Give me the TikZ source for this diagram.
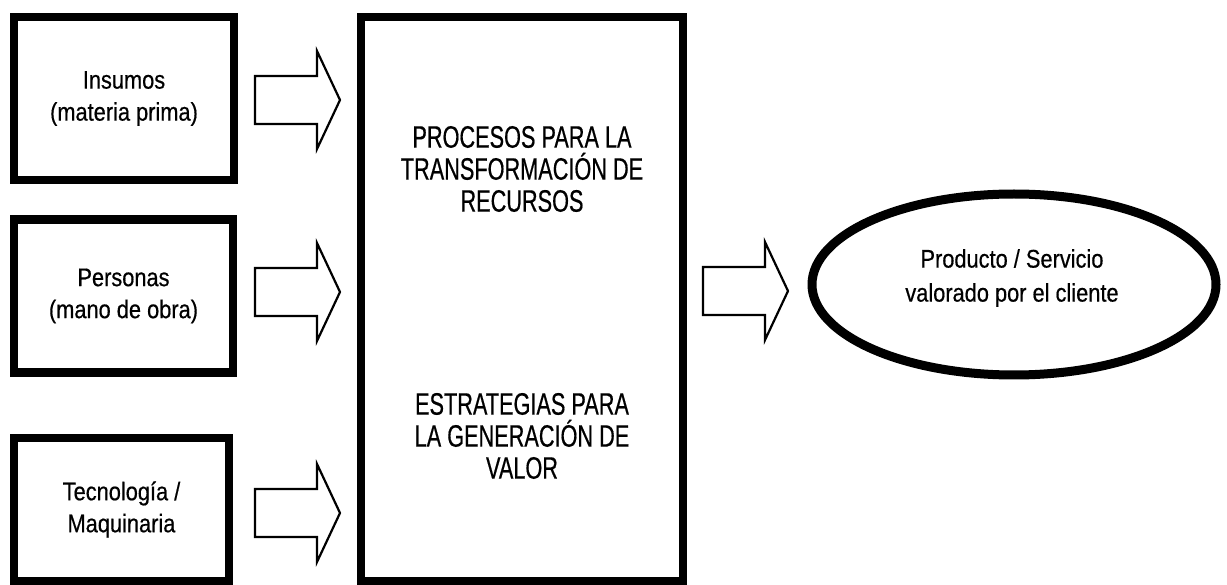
\documentclass[tikz,border=0pt]{standalone}
\usepackage{fontspec}
\setmainfont{Liberation Sans}
\newfontfamily\lowfont{Liberation Sans}[FakeStretch=0.855,FakeBold=0.5]
\newfontfamily\capfont{Liberation Sans}[FakeStretch=0.70,FakeBold=0.5]
\usetikzlibrary{shapes.geometric}
\tikzset{
  inbox/.style={draw, rectangle, line width=8.5pt, inner sep=0pt, align=center,
    font=\lowfont\fontsize{25.5}{32}\selectfont},
  bigbox/.style={draw, rectangle, line width=8pt, inner sep=0pt},
  captext/.style={align=center, inner sep=0pt, font=\capfont\fontsize{31}{32}\selectfont},
  lowtext/.style={align=center, inner sep=0pt, font=\lowfont\fontsize{25.5}{34}\selectfont},
  outell/.style={draw, ellipse, line width=9pt, inner sep=0pt},
  blockarrow/.pic={\draw[line width=2.2pt, line join=miter, fill=white]
     (0,-24) -- (62,-24) -- (62,-49) -- (85,0) -- (62,49) -- (62,24) -- (0,24) -- cycle;}
}
\begin{document}
\begin{tikzpicture}[x=1pt,y=-1pt]
\useasboundingbox (0,0) rectangle (1227,585);
% input boxes
\node[inbox, minimum width=220pt, minimum height=163pt] (insumos) at (124,98.5) {Insumos\\(materia prima)};
\node[inbox, minimum width=219pt, minimum height=153pt] (personas) at (123.5,296) {Personas\\(mano de obra)};
\node[inbox, minimum width=215pt, minimum height=143pt] (tecno) at (121.5,509.5) {Tecnología /\\Maquinaria};
% central box
\node[bigbox, minimum width=322pt, minimum height=564pt] (central) at (522,299) {};
\node[captext] (procesos) at (522,169) {PROCESOS PARA LA\\TRANSFORMACIÓN DE\\RECURSOS};
\node[captext] (estrategias) at (522,436) {ESTRATEGIAS PARA\\LA GENERACIÓN DE\\VALOR};
% output ellipse
\node[outell, minimum width=404pt, minimum height=181pt] (producto) at (1014,284.5) {};
\node[lowtext] (productotxt) at (1012,278) {Producto / Servicio\\valorado por el cliente};
% block arrows
\pic (a1) at (255,100) {blockarrow};
\pic (a2) at (255,292) {blockarrow};
\pic (a3) at (255,513) {blockarrow};
\pic (a4) at (703,291) {blockarrow};
\end{tikzpicture}
\end{document}
